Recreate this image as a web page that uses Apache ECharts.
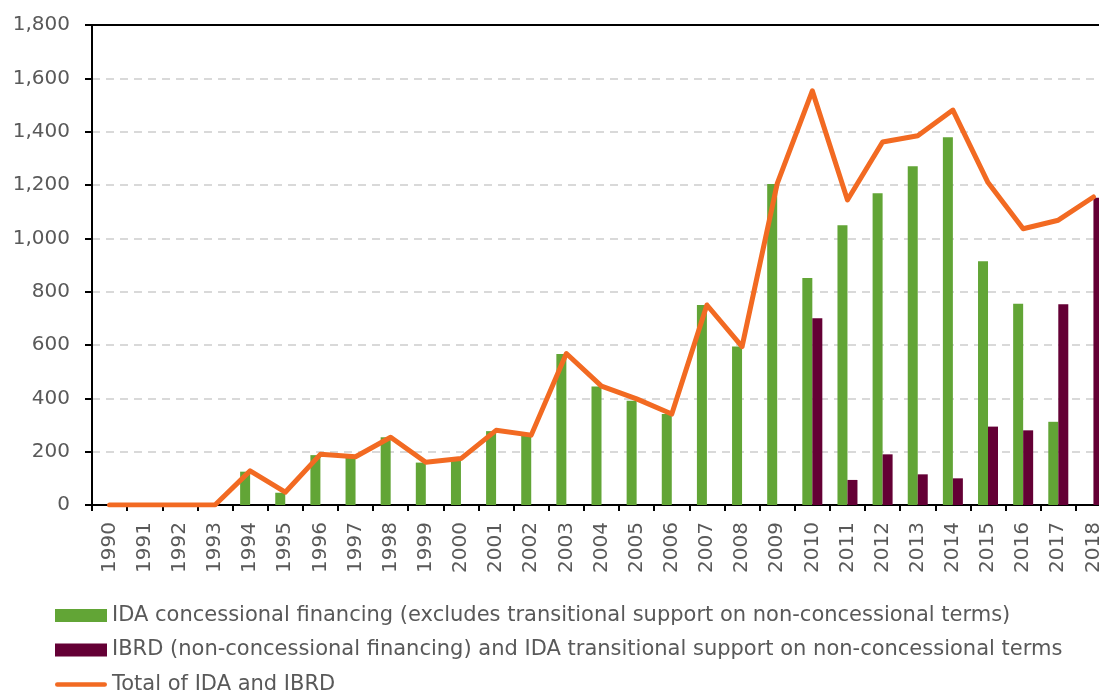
<!DOCTYPE html>
<html>
<head>
<meta charset="utf-8">
<script src="https://cdn.jsdelivr.net/npm/echarts@6/dist/echarts.min.js"></script>
<style>
  html, body { margin: 0; padding: 0; background: #fff; }
  #chart { width: 1099px; height: 692px; }
</style>
</head>
<body>
<div id="chart"></div>
<script>
// years on the x axis
var years = ['1990','1991','1992','1993','1994','1995','1996','1997','1998','1999',
             '2000','2001','2002','2003','2004','2005','2006','2007','2008','2009',
             '2010','2011','2012','2013','2014','2015','2016','2017','2018'];
// IDA concessional financing
var idaValues = [0,0,0,0,125,46,187,181,254,159,
                 169,277,262,566,444,391,341,750,594,1204,
                 851,1049,1169,1270,1379,914,755,312,0];
// IBRD + IDA transitional support
var ibrdValues = [0,0,0,0,0,0,0,0,0,0,
                  0,0,0,0,0,0,0,0,0,0,
                  700,94,190,115,100,294,280,753,1152];
// total of IDA and IBRD
var totalValues = [0,0,0,0,128,48,190,181,254,160,
                   174,280,262,568,446,398,341,750,594,1205,
                   1553,1144,1361,1385,1481,1209,1036,1068,1155];
var yTicks = { min: 0, max: 1800, step: 200 };

var labelFont = '"DejaVu Sans", "Liberation Sans", Arial, sans-serif';
var textGrey = '#595959';

var chart = echarts.init(document.getElementById('chart'));
var option = {
    animation: false,
    textStyle: { fontFamily: labelFont },
    grid: {
        left: 92,
        width: 1019,   // last category runs off the right edge, like the original
        top: 25,
        bottom: 187,
        show: true,
        borderColor: '#000',
        borderWidth: 2,
        containLabel: false,
        outerBoundsMode: 'none'
    },
    legend: {
        orient: 'vertical',
        left: 50,
        top: 600,
        height: 140,
        itemWidth: 52,
        itemHeight: 13,
        itemGap: 13.5,
        textStyle: { fontSize: 21, color: textGrey, fontFamily: labelFont },
        data: [
            { name: 'IDA concessional financing (excludes transitional support on non-concessional terms)', icon: 'rect' },
            { name: 'IBRD (non-concessional financing) and IDA transitional support on non-concessional terms', icon: 'rect' },
            { name: 'Total of IDA and IBRD',
              icon: 'path://M2.5,0 L53.5,0 A2.5,2.5 0 0 1 53.5,5 L2.5,5 A2.5,2.5 0 0 1 2.5,0 Z' }
        ]
    },
    xAxis: {
        type: 'category',
        data: years,
        boundaryGap: true,
        axisLine: { lineStyle: { color: '#000', width: 2 } },
        axisTick: { show: true, length: 6, lineStyle: { color: '#000', width: 2 } },
        axisLabel: { rotate: 90, fontSize: 20, color: textGrey, margin: 17, fontFamily: labelFont }
    },
    yAxis: {
        type: 'value',
        min: yTicks.min,
        max: yTicks.max,
        interval: yTicks.step,
        axisLine: { show: true, lineStyle: { color: '#000', width: 2 } },
        axisTick: { show: true, length: 7, lineStyle: { color: '#000', width: 2 } },
        axisLabel: {
            fontSize: 20, color: textGrey, margin: 22, fontFamily: labelFont,
            formatter: function (v) { return v.toLocaleString('en-US'); }
        },
        splitLine: {
            show: true, showMinLine: false, showMaxLine: false,
            lineStyle: { color: '#d9d9d9', width: 2, type: [8, 6] }
        }
    },
    series: [
        {
            name: 'IDA concessional financing (excludes transitional support on non-concessional terms)',
            type: 'bar',
            data: idaValues,
            barWidth: 10,
            barGap: '0%',
            itemStyle: { color: '#62a536' }
        },
        {
            name: 'IBRD (non-concessional financing) and IDA transitional support on non-concessional terms',
            type: 'bar',
            data: ibrdValues,
            barWidth: 10,
            barGap: '0%',
            itemStyle: { color: '#640035' }
        },
        {
            name: 'Total of IDA and IBRD',
            type: 'line',
            data: totalValues,
            symbol: 'none',
            lineStyle: { color: '#f26a22', width: 5, join: 'round', cap: 'round' },
            itemStyle: { color: '#f26a22' },
            z: 5
        }
    ]
};
chart.setOption(option);
</script>
</body>
</html>
